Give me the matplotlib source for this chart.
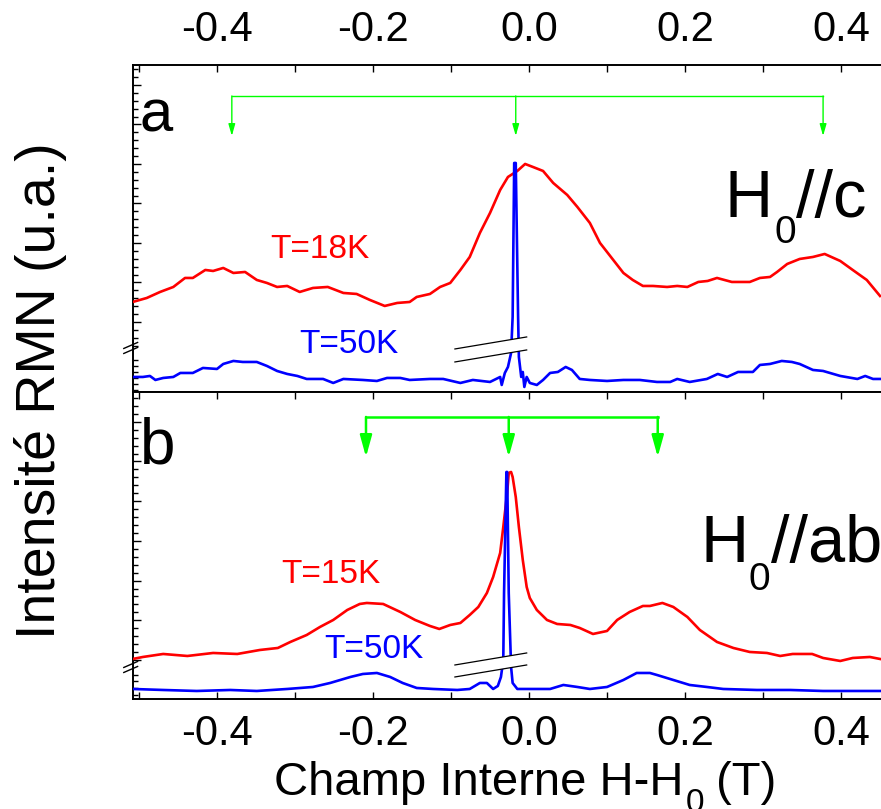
import matplotlib
matplotlib.use("Agg")
import matplotlib.pyplot as plt
import matplotlib.transforms as mtransforms
import numpy as np

plt.rcParams["font.family"] = ["Liberation Sans", "DejaVu Sans"]
plt.rcParams["axes.unicode_minus"] = False

RED = "#FF0000"
BLUE = "#0000FF"
GREEN = "#00FF00"

# ---- panel a : H0//c ----
a_red_x = [-0.508, -0.490, -0.473, -0.456, -0.441, -0.431, -0.415, -0.405, -0.392, -0.379,
           -0.364, -0.349, -0.336, -0.323, -0.310, -0.294, -0.277, -0.258, -0.238, -0.221,
           -0.204, -0.185, -0.169, -0.153, -0.144, -0.127, -0.114, -0.101, -0.088, -0.076,
           -0.063, -0.050, -0.037, -0.027, -0.015, -0.005, 0.005, 0.018, 0.031, 0.049,
           0.062, 0.078, 0.091, 0.108, 0.121, 0.133, 0.146, 0.159, 0.177, 0.190,
           0.203, 0.217, 0.229, 0.241, 0.260, 0.283, 0.296, 0.309, 0.318, 0.331,
           0.347, 0.364, 0.379, 0.399, 0.415, 0.433, 0.450]
a_red_y = [90, 94, 100, 105, 114, 114, 122, 121, 124, 119,
           120, 112, 109, 105, 106, 100, 104, 105, 99, 98,
           92, 86, 89, 90, 95, 98, 105, 109, 122, 135,
           159, 179, 202, 215, 221, 228, 225, 221, 209, 197,
           185, 169, 149, 132, 119, 112, 106, 106, 105, 106,
           105, 110, 111, 114, 110, 110, 114, 115, 120, 128,
           133, 135, 138, 131, 122, 112, 96]

a_blue_x = [-0.508, -0.495, -0.486, -0.479, -0.469, -0.456, -0.447, -0.431, -0.418, -0.400,
            -0.392, -0.379, -0.367, -0.349, -0.336, -0.323, -0.310, -0.297, -0.285, -0.264,
            -0.251, -0.238, -0.213, -0.195, -0.182, -0.165, -0.153, -0.127, -0.110, -0.088,
            -0.072, -0.050, -0.037, -0.035, -0.031, -0.027, -0.023, -0.021, -0.019, -0.017,
            -0.014, -0.013, -0.010, -0.008, -0.006, -0.003, 0.001, 0.010, 0.018, 0.027,
            0.037, 0.047, 0.055, 0.065, 0.078, 0.100, 0.121, 0.142, 0.164, 0.181,
            0.190, 0.206, 0.228, 0.242, 0.254, 0.268, 0.287, 0.296, 0.309, 0.324,
            0.337, 0.347, 0.364, 0.377, 0.399, 0.421, 0.431, 0.441, 0.450]
a_blue_y = [15, 15, 16, 12, 14, 15, 19, 19, 24, 23,
            28, 31, 30, 30, 26, 21, 18, 16, 13, 13,
            9, 13, 12, 11, 14, 14, 12, 13, 13, 9,
            12, 10, 15, 7, 19, 25, 39, 75, 229, 229,
            75, 35, 15, 20, 5, 15, 9, 7, 12, 19,
            20, 25, 22, 13, 12, 11, 12, 12, 10, 10,
            13, 10, 13, 18, 15, 20, 20, 27, 28, 31,
            30, 28, 22, 21, 16, 13, 16, 13, 13]

# ---- panel b : H0//ab ----
b_red_x = [-0.508, -0.495, -0.469, -0.438, -0.405, -0.374, -0.345, -0.322, -0.306, -0.285,
           -0.268, -0.251, -0.233, -0.217, -0.208, -0.187, -0.165, -0.146, -0.127, -0.115,
           -0.101, -0.088, -0.076, -0.065, -0.054, -0.046, -0.037, -0.033, -0.028, -0.026,
           -0.023, -0.021, -0.017, -0.013, -0.008, -0.003, 0.001, 0.010, 0.023, 0.036,
           0.053, 0.065, 0.082, 0.100, 0.113, 0.129, 0.146, 0.155, 0.171, 0.185,
           0.203, 0.219, 0.241, 0.262, 0.283, 0.305, 0.322, 0.338, 0.363, 0.377,
           0.399, 0.415, 0.437, 0.450]
b_red_y = [40, 42, 45, 43, 46, 45, 49, 51, 57, 64,
           72, 79, 89, 95, 96, 95, 87, 79, 73, 70,
           74, 76, 84, 92, 106, 122, 146, 172, 206, 226,
           227, 222, 202, 172, 139, 112, 101, 89, 79, 75,
           74, 71, 65, 68, 79, 87, 93, 93, 96, 92,
           82, 69, 57, 51, 47, 46, 43, 45, 45, 41,
           38, 41, 42, 40]

b_blue_x = [-0.508, -0.469, -0.426, -0.383, -0.349, -0.310, -0.277, -0.255, -0.229, -0.213,
            -0.195, -0.178, -0.162, -0.144, -0.123, -0.092, -0.076, -0.063, -0.054, -0.046,
            -0.040, -0.036, -0.033, -0.032, -0.029, -0.028, -0.026, -0.023, -0.021, -0.015,
            0.001, 0.027, 0.044, 0.062, 0.078, 0.100, 0.121, 0.138, 0.155, 0.164,
            0.185, 0.206, 0.228, 0.249, 0.292, 0.335, 0.377, 0.421, 0.450]
b_blue_y = [10, 9, 8, 9, 8, 10, 12, 16, 22, 25,
            26, 22, 16, 11, 10, 9, 10, 16, 16, 10,
            13, 22, 39, 106, 227, 227, 106, 32, 16, 10,
            10, 10, 14, 12, 10, 12, 19, 26, 26, 24,
            19, 14, 12, 10, 9, 9, 8, 8, 8]

# line positions marked by the green arrows
a_lines = [-0.381, -0.017, 0.377]
b_lines = [-0.209, -0.026, 0.165]

x_ticks = [-0.4, -0.2, 0.0, 0.2, 0.4]
x_ticklabels = ["-0.4", "-0.2", "0.0", "0.2", "0.4"]

W, H = 881, 809
fig = plt.figure(figsize=(W / 100, H / 100), dpi=100)
left = 133 / W
width = (900 - 133) / W
ax_a = fig.add_axes([left, 0.5155, width, 0.4042])
ax_b = fig.add_axes([left, 0.1360, width, 0.3795])
xlim = (-0.5077, 0.4756)

for ax in (ax_a, ax_b):
    ax.set_xlim(*xlim)
    ax.spines["right"].set_visible(False)
    for s in ("left", "top", "bottom"):
        ax.spines[s].set_linewidth(1.4)
    ax.set_xticks(x_ticks)
    ax.set_xticks(np.arange(-0.5, 0.46, 0.1), minor=True)
    ax.tick_params(axis="both", which="both", direction="in", width=1.0,
                   labelsize=30, right=False)
    ax.tick_params(axis="x", which="both", length=5)
    ax.tick_params(axis="y", which="major", length=6)
    ax.tick_params(axis="y", which="minor", length=3.5)

# panel a ticks: labels on top
ax_a.set_ylim(0, 327)
ax_a.tick_params(axis="x", which="both", top=True, bottom=False,
                 labeltop=True, labelbottom=False, pad=11)
ax_a.set_xticklabels(x_ticklabels)
ax_a.set_yticks(70 + 39.5 * np.arange(7))
ax_a.set_yticks(list(46.3 + 7.9 * np.arange(36)) + [2, 8, 14, 20, 26, 32], minor=True)
ax_a.set_yticklabels([])

ax_b.set_ylim(0, 307)
ax_b.tick_params(axis="x", which="both", top=True, bottom=True,
                 labeltop=False, labelbottom=True, pad=11)
ax_b.set_xticklabels(x_ticklabels)
ax_b.set_yticks(39 + 39.7 * np.arange(7))
ax_b.set_yticks(list(39 + 7.94 * np.arange(34)) + [4, 11, 18, 24], minor=True)
ax_b.set_yticklabels([])

# curves
ax_a.plot(a_red_x, a_red_y, color=RED, lw=1.9, zorder=3)
ax_a.plot(a_blue_x, a_blue_y, color=BLUE, lw=1.9, zorder=3)
ax_b.plot(b_red_x, b_red_y, color=RED, lw=1.9, zorder=3)
ax_b.plot(b_blue_x, b_blue_y, color=BLUE, lw=1.9, zorder=3)


def axis_break(ax, y_low, y_high):
    # white band + two slanted lines across the narrow peak
    xs = [-0.095, -0.003]
    ax.fill([xs[0], xs[1], xs[1], xs[0]],
            [y_low, y_low + 12, y_high + 12, y_high], color="white", zorder=4, lw=0)
    ax.plot(xs, [y_low, y_low + 12], color="black", lw=0.9, zorder=5)
    ax.plot(xs, [y_high, y_high + 12], color="black", lw=0.9, zorder=5)


def spine_break(ax, y):
    tr = mtransforms.blended_transform_factory(ax.transAxes, ax.transData)
    for dy in (-2.5, 2.5):
        ax.plot([-0.012, 0.006], [y + dy - 3, y + dy + 3], color="black", lw=1.0,
                transform=tr, clip_on=False, zorder=6)


axis_break(ax_a, 30, 43)
axis_break(ax_b, 22, 34)
spine_break(ax_a, 44)
spine_break(ax_b, 32)


def arrows(ax, xs, bar_y, tip_y, lw, hl, hw):
    ax.plot([xs[0], xs[-1]], [bar_y, bar_y], color=GREEN, lw=lw, zorder=3)
    for x in xs:
        ax.annotate("", xy=(x, tip_y), xytext=(x, bar_y),
                    arrowprops=dict(arrowstyle=f"-|>,head_length={hl},head_width={hw}",
                                    color=GREEN, lw=lw, shrinkA=0, shrinkB=0,
                                    mutation_scale=20))


arrows(ax_a, a_lines, 296, 256, 1.0, 0.35, 0.1)
arrows(ax_b, b_lines, 282, 242, 1.8, 0.65, 0.18)

# labels
ax_a.text(-0.332, 134, "T=18K", color=RED, fontsize=24, va="baseline")
ax_a.text(-0.294, 39, "T=50K", color=BLUE, fontsize=24, va="baseline")
ax_b.text(-0.318, 116, "T=15K", color=RED, fontsize=24, va="baseline")
ax_b.text(-0.262, 41, "T=50K", color=BLUE, fontsize=24, va="baseline")


def ftext(px, py, s, **kw):
    # text placed at reference pixel position (from top-left)
    return fig.text(px / W, 1 - py / H, s, va="baseline", **kw)


ftext(140, 132, "a", fontsize=43)
ftext(140, 464, "b", fontsize=46)

# H0//c and H0//ab with a deep subscript
ftext(725, 217, "H", fontsize=48)
ftext(774, 243, "0", fontsize=28)
ftext(796, 217, "//c", fontsize=48)
ftext(700, 562, "H", fontsize=48)
ftext(749, 590, "0", fontsize=28)
ftext(771, 562, "//ab", fontsize=48)

fig.text(41 / W, 1 - 391 / H, "Intensité RMN (u.a.)", rotation=90,
         fontsize=40, ha="center", va="center")
ftext(274, 795, "Champ Interne H-H", fontsize=34)
ftext(686, 812, "0", fontsize=24)
ftext(703, 795, " (T)", fontsize=34)

fig.savefig("out.png", dpi=100)
